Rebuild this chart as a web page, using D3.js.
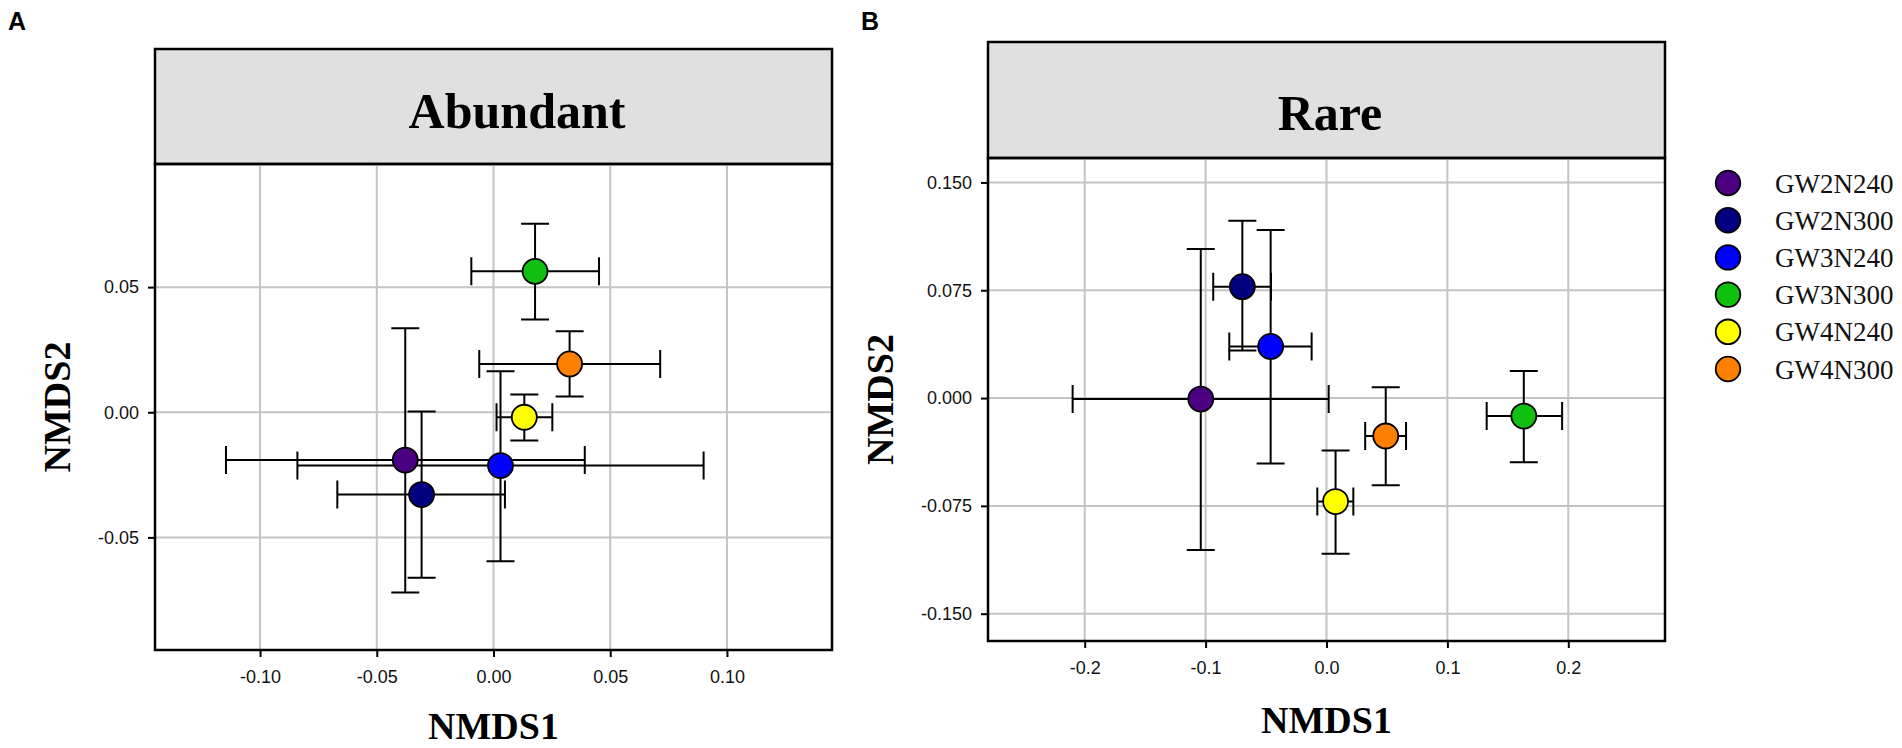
<!DOCTYPE html>
<html>
<head>
<meta charset="utf-8">
<script src="https://cdn.jsdelivr.net/npm/d3@7"></script>
<style>
  body { margin: 0; background: #fff; }
  .tick text { font-family: Arial, "Liberation Sans", sans-serif; }
</style>
</head>
<body>
<svg id="drawing_region"></svg>
<script>
const groups = ['GW2N240', 'GW2N300', 'GW3N240', 'GW3N300', 'GW4N240', 'GW4N300'];
const colors = ['#4B0082', '#000080', '#0000FF', '#10C010', '#FFFF00', '#FF8000'];

// Abundant (panel A)
const abundantX     = [-0.0378, -0.0308,  0.0030,  0.0178,  0.0132,  0.0326];
const abundantY     = [-0.0191, -0.0329, -0.0213,  0.0563, -0.0020,  0.0193];
const abundantXLow  = [-0.1146, -0.0669, -0.0840, -0.0095,  0.0013, -0.0061];
const abundantXHigh = [ 0.0391,  0.0049,  0.0900,  0.0452,  0.0252,  0.0714];
const abundantYLow  = [-0.0720, -0.0661, -0.0595,  0.0371, -0.0113,  0.0063];
const abundantYHigh = [ 0.0336,  0.0003,  0.0164,  0.0753,  0.0071,  0.0324];
const abundantXTicks = [-0.10, -0.05, 0.00, 0.05, 0.10];
const abundantYTicks = [-0.05, 0.00, 0.05];

// Rare (panel B)
const rareX     = [-0.1040, -0.0696, -0.0462,  0.1632,  0.0075,  0.0490];
const rareY     = [-0.0007,  0.0775,  0.0359, -0.0125, -0.0720, -0.0264];
const rareXLow  = [-0.2100, -0.0937, -0.0804,  0.1325, -0.0076,  0.0320];
const rareXHigh = [ 0.0018, -0.0459, -0.0123,  0.1949,  0.0222,  0.0658];
const rareYLow  = [-0.1057,  0.0331, -0.0456, -0.0447, -0.1083, -0.0606];
const rareYHigh = [ 0.1037,  0.1234,  0.1169,  0.0188, -0.0365,  0.0076];
const rareXTicks = [-0.2, -0.1, 0.0, 0.1, 0.2];
const rareYTicks = [-0.150, -0.075, 0.000, 0.075, 0.150];

const svg = d3.select('#drawing_region')
    .attr('width', 1902)
    .attr('height', 748);

function makeRows(x, y, xl, xh, yl, yh) {
    return groups.map((g, i) => ({
        label: g, color: colors[i],
        x: x[i], y: y[i], xl: xl[i], xh: xh[i], yl: yl[i], yh: yh[i]
    }));
}

class NmdsPanel {

    constructor(config, data) {
        this.config = config;
        this.data = data;
        this.init();
    }

    init() {
        let self = this;
        const c = self.config;

        self.g = svg.append('g');

        self.xscale = d3.scaleLinear()
            .domain(c.xdomain)
            .range([c.left, c.right]);

        self.yscale = d3.scaleLinear()
            .domain(c.ydomain)
            .range([c.bottom, c.top]);
    }

    render() {
        let self = this;
        const c = self.config;
        const cap = 14;

        // panel letter
        self.g.append('text')
            .attr('x', c.letterX).attr('y', 30)
            .attr('font-family', 'Arial, "Liberation Sans", sans-serif')
            .attr('font-weight', 'bold')
            .attr('font-size', 25)
            .text(c.letter);

        // header strip
        self.g.append('rect')
            .attr('x', c.left).attr('y', c.headerTop)
            .attr('width', c.right - c.left)
            .attr('height', c.top - c.headerTop)
            .attr('fill', '#e0e0e0')
            .attr('stroke', '#000')
            .attr('stroke-width', 2.5);

        self.g.append('text')
            .attr('x', c.titleX).attr('y', c.titleY)
            .attr('text-anchor', 'middle')
            .attr('font-family', '"Liberation Serif", "Times New Roman", serif')
            .attr('font-weight', 'bold')
            .attr('font-size', 50)
            .text(c.title);

        // grid
        self.g.append('g').selectAll('line').data(c.xticks).join('line')
            .attr('x1', d => self.xscale(d)).attr('x2', d => self.xscale(d))
            .attr('y1', c.top).attr('y2', c.bottom)
            .attr('stroke', '#c4c4c4').attr('stroke-width', 2);

        self.g.append('g').selectAll('line').data(c.yticks).join('line')
            .attr('x1', c.left).attr('x2', c.right)
            .attr('y1', d => self.yscale(d)).attr('y2', d => self.yscale(d))
            .attr('stroke', '#c4c4c4').attr('stroke-width', 2);

        // axes
        const xaxis = d3.axisBottom(self.xscale)
            .tickValues(c.xticks)
            .tickFormat(d => d.toFixed(c.xdigits))
            .tickSize(7).tickPadding(13).tickSizeOuter(0);

        const yaxis = d3.axisLeft(self.yscale)
            .tickValues(c.yticks)
            .tickFormat(d => d.toFixed(c.ydigits))
            .tickSize(7).tickPadding(9).tickSizeOuter(0);

        const xg = self.g.append('g')
            .attr('transform', `translate(0, ${c.bottom})`)
            .call(xaxis);
        const yg = self.g.append('g')
            .attr('transform', `translate(${c.left}, 0)`)
            .call(yaxis);

        [xg, yg].forEach(a => {
            a.select('.domain').remove();
            a.selectAll('.tick line').attr('stroke', '#000').attr('stroke-width', 2);
            a.selectAll('.tick text')
                .attr('font-size', 18)
                .attr('fill', '#111');
        });

        // frame
        self.g.append('rect')
            .attr('x', c.left).attr('y', c.top)
            .attr('width', c.right - c.left)
            .attr('height', c.bottom - c.top)
            .attr('fill', 'none')
            .attr('stroke', '#000')
            .attr('stroke-width', 2.5);

        // axis titles
        self.g.append('text')
            .attr('x', (c.left + c.right) / 2).attr('y', c.xlabelY)
            .attr('text-anchor', 'middle')
            .attr('font-family', '"Liberation Serif", "Times New Roman", serif')
            .attr('font-weight', 'bold')
            .attr('font-size', 38)
            .text('NMDS1');

        self.g.append('text')
            .attr('transform', `translate(${c.ylabelX}, ${(c.top + c.bottom) / 2}) rotate(-90)`)
            .attr('text-anchor', 'middle')
            .attr('font-family', '"Liberation Serif", "Times New Roman", serif')
            .attr('font-weight', 'bold')
            .attr('font-size', 38)
            .text('NMDS2');

        // error bars
        const bars = self.g.append('g')
            .attr('stroke', '#000')
            .attr('stroke-width', 2)
            .attr('fill', 'none');

        self.data.forEach(d => {
            const x = self.xscale(d.x), y = self.yscale(d.y);
            const x0 = self.xscale(d.xl), x1 = self.xscale(d.xh);
            const y0 = self.yscale(d.yl), y1 = self.yscale(d.yh);
            bars.append('path')
                .attr('d', `M${x0},${y}H${x1}` +
                           `M${x0},${y - cap}V${y + cap}M${x1},${y - cap}V${y + cap}` +
                           `M${x},${y0}V${y1}` +
                           `M${x - cap},${y0}H${x + cap}M${x - cap},${y1}H${x + cap}`);
        });

        // points
        self.g.append('g').selectAll('circle').data(self.data).join('circle')
            .attr('cx', d => self.xscale(d.x))
            .attr('cy', d => self.yscale(d.y))
            .attr('r', 12.5)
            .attr('fill', d => d.color)
            .attr('stroke', '#000')
            .attr('stroke-width', 1.8);
    }
}

const panelA = new NmdsPanel({
    letter: 'A', letterX: 8, title: 'Abundant', titleX: 517, titleY: 128,
    left: 155, right: 832, headerTop: 49, top: 164, bottom: 650,
    xdomain: [-0.145, 0.145], ydomain: [-0.095, 0.0992],
    xticks: abundantXTicks, yticks: abundantYTicks, xdigits: 2, ydigits: 2,
    xlabelY: 739, ylabelX: 70
}, makeRows(abundantX, abundantY, abundantXLow, abundantXHigh, abundantYLow, abundantYHigh));
panelA.render();

const panelB = new NmdsPanel({
    letter: 'B', letterX: 861, title: 'Rare', titleX: 1330, titleY: 130,
    left: 988, right: 1665, headerTop: 42, top: 158, bottom: 641,
    xdomain: [-0.28, 0.28], ydomain: [-0.169, 0.167],
    xticks: rareXTicks, yticks: rareYTicks, xdigits: 1, ydigits: 3,
    xlabelY: 733, ylabelX: 893
}, makeRows(rareX, rareY, rareXLow, rareXHigh, rareYLow, rareYHigh));
panelB.render();

// legend
const legend = svg.append('g');
legend.selectAll('circle').data(groups).join('circle')
    .attr('cx', 1728)
    .attr('cy', (d, i) => 183 + i * 37.2)
    .attr('r', 12.3)
    .attr('fill', (d, i) => colors[i])
    .attr('stroke', '#000')
    .attr('stroke-width', 1.8);

legend.selectAll('text').data(groups).join('text')
    .attr('x', 1775)
    .attr('y', (d, i) => 183 + i * 37.2 + 9.5)
    .attr('font-family', '"Liberation Serif", "Times New Roman", serif')
    .attr('font-size', 27)
    .attr('fill', '#111')
    .text(d => d);
</script>
</body>
</html>
